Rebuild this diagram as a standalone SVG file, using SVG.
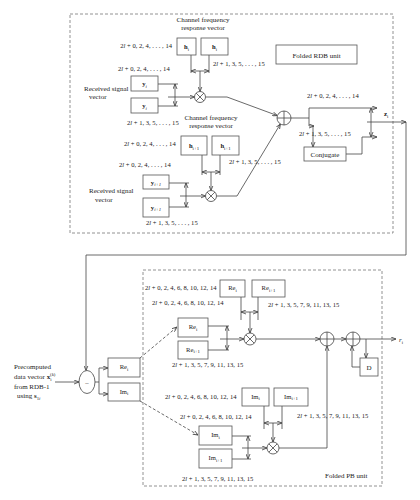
<svg xmlns="http://www.w3.org/2000/svg" width="420" height="500" viewBox="0 0 420 500">
<style>
.box{fill:#fff;stroke:#555;stroke-width:0.8}
.ln{fill:none;stroke:#444;stroke-width:0.8}
.dash{fill:none;stroke:#777;stroke-width:0.8;stroke-dasharray:3 2}
.op{fill:#fff;stroke:#444;stroke-width:0.8}
text{font-family:"Liberation Serif","Times New Roman",serif;font-size:6.6px;fill:#222}
.c{font-size:7px}
.m{text-anchor:middle}
.it{font-style:italic}
.b{font-weight:bold}
.s{font-size:4.8px}
</style>
<defs>
<marker id="a" viewBox="0 0 6 6" refX="6" refY="3" markerWidth="5" markerHeight="5" markerUnits="userSpaceOnUse" orient="auto-start-reverse">
<path d="M0,0.6 L6,3 L0,5.4" fill="none" stroke="#444" stroke-width="1"/>
</marker>
</defs>
<rect width="420" height="500" fill="#fff"/>

<g id="units">
<rect class="dash" x="70" y="14" width="323" height="219"/>
<rect class="dash" x="143" y="270" width="239" height="216"/>
</g>

<g id="connectors">
<!-- top: h_i -->
<path class="ln" d="M191,55 V73 M209,55 V73"/>
<path class="ln" d="M191,71 H209" marker-start="url(#a)" marker-end="url(#a)"/>
<path class="ln" d="M200,71 V91.5" marker-end="url(#a)"/>
<!-- y_i -->
<path class="ln" d="M158,84 H178 M158,106 H178"/>
<path class="ln" d="M175,84 V106" marker-start="url(#a)" marker-end="url(#a)"/>
<path class="ln" d="M168,97 H194.5" marker-end="url(#a)"/>
<path class="ln" d="M205.5,97 H227 L277.4,115.6" marker-end="url(#a)"/>
<!-- h_i+1 -->
<path class="ln" d="M202,155 V175 M220,155 V175"/>
<path class="ln" d="M202,172 H220" marker-start="url(#a)" marker-end="url(#a)"/>
<path class="ln" d="M211,172 V190.5" marker-end="url(#a)"/>
<!-- y_i+1 -->
<path class="ln" d="M169,183 H189 M169,207 H189"/>
<path class="ln" d="M186,183 V207" marker-start="url(#a)" marker-end="url(#a)"/>
<path class="ln" d="M180,196 H205.5" marker-end="url(#a)"/>
<path class="ln" d="M216.5,196 H237 L280.4,124" marker-end="url(#a)"/>
<!-- sum split -->
<path class="ln" d="M291,118 H309 M309,108 V126"/>
<path class="ln" d="M309,108 H377" marker-end="url(#a)"/>
<path class="ln" d="M309,126 H314" marker-end="url(#a)"/>
<path class="ln" d="M313,126 V147" marker-end="url(#a)"/>
<path class="ln" d="M346,154 H362 V137 H377" marker-end="url(#a)"/>
<path class="ln" d="M371,108 V137" marker-start="url(#a)" marker-end="url(#a)"/>
<path class="ln" d="M367,122 H406" marker-end="url(#a)"/>
<path class="ln" d="M406,122 V255 H86 V370.5" marker-end="url(#a)"/>
<!-- left -->
<path class="ln" d="M55,382 H79" marker-end="url(#a)"/>
<path class="ln" d="M95,382 H99 M99,368 V394"/>
<path class="ln" d="M99,368 H108" marker-end="url(#a)"/>
<path class="ln" d="M99,394 H108" marker-end="url(#a)"/>
<path class="ln" d="M140,358 L177,327" stroke-dasharray="3 2" marker-end="url(#a)"/>
<path class="ln" d="M140,401 L198,435" stroke-dasharray="3 2" marker-end="url(#a)"/>
<!-- PB Re -->
<path class="ln" d="M241,297 V320 M258,297 V320"/>
<path class="ln" d="M241,312 H258" marker-start="url(#a)" marker-end="url(#a)"/>
<path class="ln" d="M250,312 V333" marker-end="url(#a)"/>
<path class="ln" d="M208,326 H229 M208,350 H229"/>
<path class="ln" d="M227,326 V350" marker-start="url(#a)" marker-end="url(#a)"/>
<path class="ln" d="M220,339 H244" marker-end="url(#a)"/>
<path class="ln" d="M256,339 H320" marker-end="url(#a)"/>
<path class="ln" d="M334,339 H346" marker-end="url(#a)"/>
<path class="ln" d="M360,339 H396" marker-end="url(#a)"/>
<path class="ln" d="M366,339 V358" marker-end="url(#a)"/>
<path class="ln" d="M360,367 H352 V346" marker-end="url(#a)"/>
<!-- PB Im -->
<path class="ln" d="M264,406 V429 M282,406 V429"/>
<path class="ln" d="M264,423 H282" marker-start="url(#a)" marker-end="url(#a)"/>
<path class="ln" d="M273,423 V442" marker-end="url(#a)"/>
<path class="ln" d="M232,436 H251 M232,459 H251"/>
<path class="ln" d="M248,436 V459" marker-start="url(#a)" marker-end="url(#a)"/>
<path class="ln" d="M242,448 H267" marker-end="url(#a)"/>
<path class="ln" d="M279,448 H327 V346" marker-end="url(#a)"/>
</g>

<g id="rdb-label"><rect class="box" x="276" y="45" width="81" height="19"/><text class="c m" x="316.5" y="57.5">Folded RDB unit</text></g>
<g id="h1a"><rect class="box" x="177" y="38" width="19" height="17"/><text class="m" x="186.5" y="49"><tspan class="b">h</tspan><tspan class="s" dy="1.5">i</tspan></text></g>
<g id="h1b"><rect class="box" x="201" y="38" width="27" height="17"/><text class="m" x="214.5" y="49"><tspan class="b">h</tspan><tspan class="s" dy="1.5">i</tspan></text></g>
<g id="y1a"><rect class="box" x="131" y="76" width="27" height="15"/><text class="m" x="144.5" y="86"><tspan class="b">y</tspan><tspan class="s it" dy="1.5">i</tspan></text></g>
<g id="y1b"><rect class="box" x="131" y="98" width="27" height="15"/><text class="m" x="144.5" y="108"><tspan class="b">y</tspan><tspan class="s it" dy="1.5">i</tspan></text></g>
<g id="h2a"><rect class="box" x="181" y="136" width="26" height="19"/><text class="m" x="194" y="148"><tspan class="b">h</tspan><tspan class="s" dy="1.5">i+1</tspan></text></g>
<g id="h2b"><rect class="box" x="212" y="136" width="27" height="19"/><text class="m" x="225.5" y="148"><tspan class="b">h</tspan><tspan class="s" dy="1.5">i+1</tspan></text></g>
<g id="y2a"><rect class="box" x="143" y="175" width="26" height="14"/><text class="m" x="156" y="184.5"><tspan class="b">y</tspan><tspan class="s it" dy="1.5">i+1</tspan></text></g>
<g id="y2b"><rect class="box" x="143" y="198" width="26" height="19"/><text class="m" x="156" y="209.5"><tspan class="b">y</tspan><tspan class="s it" dy="1.5">i+1</tspan></text></g>
<g id="mul1"><circle class="op" cx="200" cy="97" r="5.5"/><path class="ln" d="M196.1,93.1 L203.9,100.9 M203.9,93.1 L196.1,100.9"/></g>
<g id="mul2"><circle class="op" cx="211" cy="196" r="5.5"/><path class="ln" d="M207.1,192.1 L214.9,199.9 M214.9,192.1 L207.1,199.9"/></g>
<g id="sum-top"><circle class="op" cx="284" cy="118" r="7"/><path class="ln" d="M277,118 H291 M284,111 V125"/></g>
<g id="conj"><rect class="box" x="304" y="147" width="42" height="14"/><text class="c m" x="325" y="156.5">Conjugate</text></g>

<g id="minus"><ellipse class="op" cx="87" cy="382" rx="8" ry="11.5"/><text class="m" x="87" y="384.5">–</text></g>
<g id="re-left"><rect class="box" x="108" y="358" width="32" height="19"/><text class="m" x="124" y="369">Re<tspan class="s" dy="1.5">i</tspan></text></g>
<g id="im-left"><rect class="box" x="108" y="383" width="32" height="18"/><text class="m" x="124" y="393.5">Im<tspan class="s" dy="1.5">i</tspan></text></g>
<g id="re-a"><rect class="box" x="220" y="280" width="25" height="17"/><text class="m" x="232.5" y="290">Re<tspan class="s" dy="1.5">i</tspan></text></g>
<g id="re-b"><rect class="box" x="252" y="280" width="33" height="17"/><text class="m" x="268.5" y="290">Re<tspan class="s" dy="1.5">i+1</tspan></text></g>
<g id="re-c"><rect class="box" x="178" y="318" width="30" height="19"/><text class="m" x="193" y="329">Re<tspan class="s" dy="1.5">i</tspan></text></g>
<g id="re-d"><rect class="box" x="178" y="341" width="30" height="18"/><text class="m" x="193" y="351.5">Re<tspan class="s" dy="1.5">i+1</tspan></text></g>
<g id="im-a"><rect class="box" x="242" y="388" width="27" height="18"/><text class="m" x="255.5" y="398.5">Im<tspan class="s" dy="1.5">i</tspan></text></g>
<g id="im-b"><rect class="box" x="274" y="388" width="34" height="18"/><text class="m" x="291" y="398.5">Im<tspan class="s" dy="1.5">i+1</tspan></text></g>
<g id="im-c"><rect class="box" x="199" y="426" width="33" height="19"/><text class="m" x="215.5" y="437">Im<tspan class="s" dy="1.5">i</tspan></text></g>
<g id="im-d"><rect class="box" x="199" y="449" width="33" height="19"/><text class="m" x="215.5" y="460">Im<tspan class="s" dy="1.5">i+1</tspan></text></g>
<g id="mul3"><circle class="op" cx="250" cy="339" r="6"/><path class="ln" d="M245.8,334.8 L254.2,343.2 M254.2,334.8 L245.8,343.2"/></g>
<g id="mul4"><circle class="op" cx="273" cy="448" r="6"/><path class="ln" d="M268.8,443.8 L277.2,452.2 M277.2,443.8 L268.8,452.2"/></g>
<g id="sum1"><circle class="op" cx="327" cy="339" r="7"/><path class="ln" d="M320,339 H334 M327,332 V346"/></g>
<g id="sum2"><circle class="op" cx="353" cy="339" r="7"/><path class="ln" d="M346,339 H360 M353,332 V346"/></g>
<g id="delay"><rect class="box" x="360" y="358" width="18" height="18"/><text class="c m" x="369" y="369.5">D</text></g>

<g id="labels">
<text class="c m" x="203" y="22">Channel frequency</text>
<text class="c m" x="203" y="29.5">response vector</text>
<text x="172" y="48" text-anchor="end">2<tspan class="it">l</tspan> + 0, 2, 4, . . . , 14</text>
<text x="213" y="66">2<tspan class="it">l</tspan> + 1, 3, 5, . . . , 15</text>
<text x="118" y="71">2<tspan class="it">l</tspan> + 0, 2, 4, . . . , 14</text>
<text class="c" x="84" y="91">Received signal</text>
<text class="c" x="89" y="99">vector</text>
<text x="127" y="124.5">2<tspan class="it">l</tspan> + 1, 3, 5, . . . , 15</text>
<text class="c m" x="211" y="120">Channel frequency</text>
<text class="c m" x="211" y="128">response vector</text>
<text x="124" y="146">2<tspan class="it">l</tspan> + 0, 2, 4, . . . , 14</text>
<text x="229" y="164">2<tspan class="it">l</tspan> + 1, 3, 5, . . . , 15</text>
<text x="119" y="167">2<tspan class="it">l</tspan> + 0, 2, 4, . . . , 14</text>
<text class="c" x="89" y="193">Received signal</text>
<text class="c" x="95" y="202">vector</text>
<text x="146" y="225">2<tspan class="it">l</tspan> + 1, 3, 5, . . . , 15</text>
<text x="307" y="98">2<tspan class="it">l</tspan> + 0, 2, 4, . . . , 14</text>
<text x="299" y="136">2<tspan class="it">l</tspan> + 1, 3, 5, . . . , 15</text>
<text class="c" x="384" y="116"><tspan class="b">z</tspan><tspan class="s" dy="1.5">i</tspan></text>

<text x="145" y="290">2<tspan class="it">l</tspan> + 0, 2, 4, 6, 8, 10, 12, 14</text>
<text x="268" y="307">2<tspan class="it">l</tspan> + 1, 3, 5, 7, 9, 11, 13, 15</text>
<text x="152" y="305">2<tspan class="it">l</tspan> + 0, 2, 4, 6, 8, 10, 12, 14</text>
<text x="172" y="367">2<tspan class="it">l</tspan> + 1, 3, 5, 7, 9, 11, 13, 15</text>
<text x="165" y="399">2<tspan class="it">l</tspan> + 0, 2, 4, 6, 8, 10, 12, 14</text>
<text x="297" y="418">2<tspan class="it">l</tspan> + 1, 3, 5, 7, 9, 11, 13, 15</text>
<text x="180" y="419">2<tspan class="it">l</tspan> + 0, 2, 4, 6, 8, 10, 12, 14</text>
<text x="182" y="481">2<tspan class="it">l</tspan> + 1, 3, 5, 7, 9, 11, 13, 15</text>
<text class="c" x="325" y="478">Folded PB unit</text>
<text class="c" x="399" y="342"><tspan class="it">r</tspan><tspan class="s" dy="1.5">i</tspan></text>

<text class="c" x="14" y="369">Precomputed</text>
<text class="c" x="14" y="379">data vector <tspan class="b">x</tspan><tspan class="s" dy="1.8">i</tspan><tspan class="s" dx="-1.4" dy="-5">(<tspan class="it">k</tspan>)</tspan></text>
<text class="c" x="14" y="389">from RDB-1</text>
<text class="c" x="17" y="398">using <tspan class="b">s</tspan><tspan class="s" dy="1.5">1<tspan class="it">i</tspan></tspan></text>
</g>
</svg>
